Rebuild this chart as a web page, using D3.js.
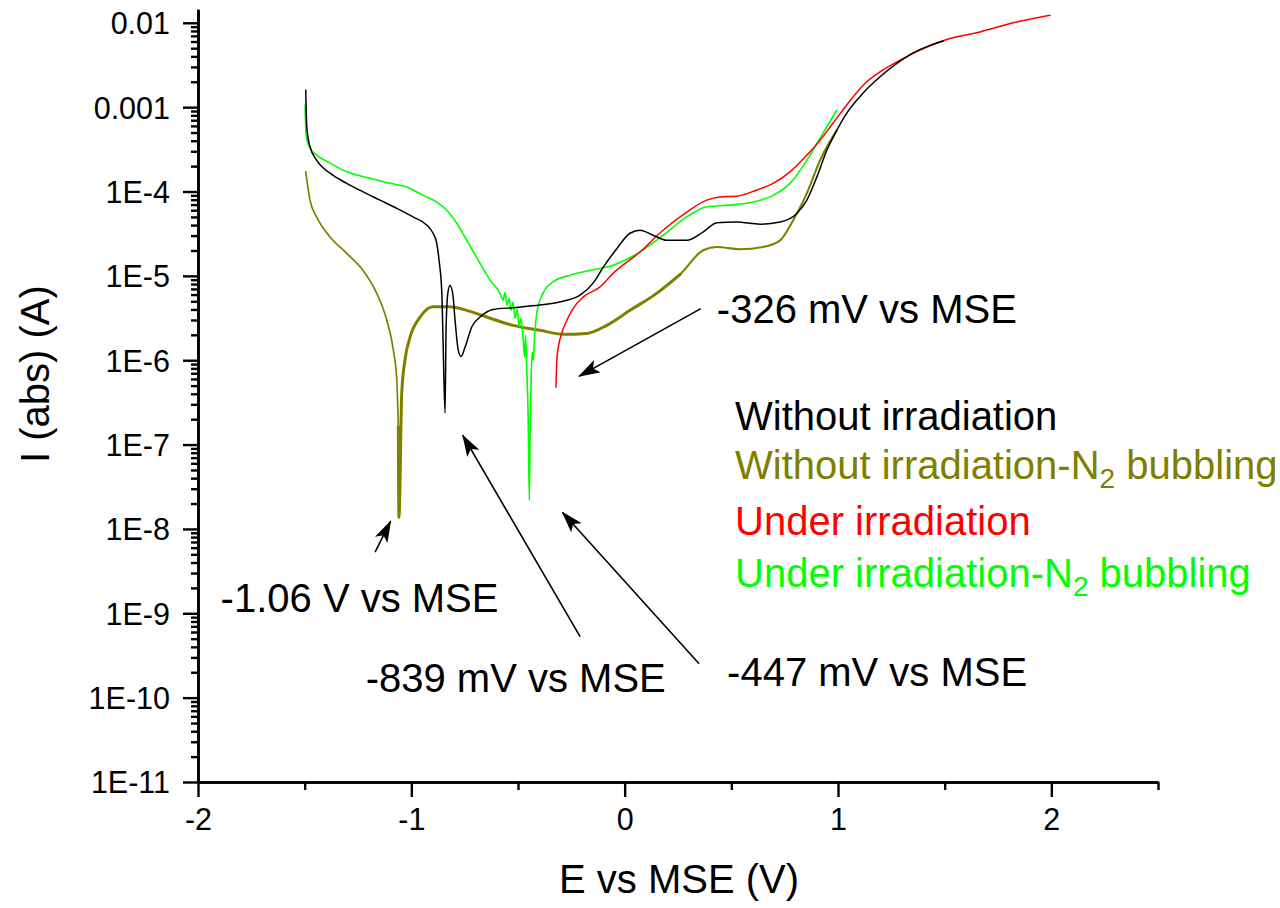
<!DOCTYPE html>
<html>
<head>
<meta charset="utf-8">
<script src="https://cdn.jsdelivr.net/npm/d3@7"></script>
<style>
  body { margin: 0; background: #fff; }
  svg  { display: block; font-family: "Liberation Sans", Arial, sans-serif; }
</style>
</head>
<body>
<svg id="chart" width="1280" height="908"></svg>
<script>
// ── Data (E vs MSE in V, |I| in A) ───────────────────────────────
const noIrr = [
  [-1.495,1.59e-3],[-1.490,5.8e-4],[-1.475,3.4e-4],[-1.444,2.35e-4],[-1.381,1.65e-4],
  [-1.303,1.25e-4],[-1.226,9.9e-5],[-1.147,7.9e-5],[-1.068,6.3e-5],[-0.992,5.0e-5],
  [-0.928,4.0e-5],[-0.898,3.2e-5],[-0.881,2.44e-5],[-0.870,1.53e-5],[-0.857,6.2e-6],
  [-0.851,1.6e-6],[-0.842,2.37e-7],[-0.837,2.45e-6],[-0.829,6.2e-6],[-0.819,7.7e-6],
  [-0.806,6.2e-6],[-0.795,2.97e-6],[-0.780,1.31e-6],[-0.767,1.11e-6],[-0.748,1.43e-6],
  [-0.717,2.48e-6],[-0.678,3.25e-6],[-0.617,4.0e-6],[-0.523,4.2e-6],[-0.397,4.5e-6],
  [-0.289,5.0e-6],[-0.209,5.9e-6],[-0.148,8.2e-6],[-0.101,1.26e-5],[-0.037,2.1e-5],
  [0.025,3.2e-5],[0.072,3.47e-5],[0.133,3.03e-5],[0.197,2.64e-5],[0.291,2.64e-5],
  [0.367,3.3e-5],[0.432,4.25e-5],[0.525,4.36e-5],[0.635,4.1e-5],[0.729,4.36e-5],
  [0.807,5.5e-5],[0.854,7.9e-5],[0.901,1.49e-4],[0.948,3.1e-4],[0.994,5.3e-4],
  [1.041,8.5e-4],[1.118,1.47e-3],[1.197,2.29e-3],[1.276,3.3e-3],[1.352,4.4e-3],
  [1.432,5.4e-3],[1.493,6.1e-3]
];
const noIrrN2 = [
  [-1.495,1.71e-4],[-1.475,7.9e-5],[-1.444,5.0e-5],[-1.381,2.89e-5],[-1.303,1.85e-5],
  [-1.226,1.16e-5],[-1.162,6.2e-6],[-1.115,2.97e-6],[-1.084,1.31e-6],[-1.068,5.8e-7],
  [-1.061,1.61e-7],[-1.058,1.37e-8],[-1.045,4.05e-7],[-1.030,1.0e-6],[-1.006,1.88e-6],
  [-0.959,3.25e-6],[-0.898,4.3e-6],[-0.819,4.3e-6],[-0.740,3.9e-6],[-0.647,3.25e-6],
  [-0.523,2.59e-6],[-0.397,2.26e-6],[-0.289,2.03e-6],[-0.178,2.08e-6],[-0.084,2.59e-6],
  [0.025,3.9e-6],[0.150,6.2e-6],[0.260,1.04e-5],[0.368,2.01e-5],[0.432,2.2e-5],
  [0.541,2.07e-5],[0.649,2.2e-5],[0.729,2.64e-5],[0.790,4.56e-5],[0.854,9.5e-5],
  [0.916,2.35e-4],[0.994,5.3e-4]
];
const irr = [
  [-0.322,4.8e-7],[-0.318,1.0e-6],[-0.311,1.43e-6],[-0.295,2.09e-6],[-0.271,2.97e-6],
  [-0.242,4.1e-6],[-0.195,5.6e-6],[-0.115,7.4e-6],[-0.054,1.07e-5],[0.072,1.92e-5],
  [0.180,3.47e-5],[0.291,5.7e-5],[0.385,7.9e-5],[0.447,8.6e-5],[0.526,8.8e-5],
  [0.619,1.04e-4],[0.696,1.25e-4],[0.775,1.71e-4],[0.854,2.7e-4],[0.916,4.06e-4],
  [0.977,6.5e-4],[1.041,1.06e-3],[1.118,1.82e-3],[1.197,2.62e-3],[1.291,3.6e-3],
  [1.385,4.75e-3],[1.510,6.35e-3],[1.666,7.8e-3],[1.821,1.0e-2],[1.994,1.23e-2]
];
const irrN2 = [
  [-1.498,1.06e-3],[-1.494,4.9e-4],[-1.475,3.27e-4],[-1.444,2.7e-4],[-1.381,2.17e-4],
  [-1.303,1.71e-4],[-1.194,1.44e-4],[-1.100,1.25e-4],[-1.022,1.13e-4],[-0.945,9.0e-5],
  [-0.881,7.5e-5],[-0.834,6.0e-5],[-0.787,4.2e-5],[-0.740,2.64e-5],[-0.678,1.41e-5],
  [-0.631,8.9e-6],[-0.584,6.2e-6],[-0.570,5.14e-6],[-0.561,6.38e-6],[-0.551,4.48e-6],
  [-0.542,5.42e-6],[-0.533,3.91e-6],[-0.523,4.86e-6],[-0.514,3.14e-6],[-0.504,4.02e-6],
  [-0.495,2.52e-6],[-0.486,3.14e-6],[-0.476,1.82e-6],[-0.469,1.08e-6],[-0.465,1.97e-6],
  [-0.458,6.6e-7],[-0.452,1.94e-7],[-0.447,2.18e-8],[-0.443,1.47e-7],[-0.438,6.6e-7],
  [-0.433,1.24e-6],[-0.428,1.0e-6],[-0.422,1.97e-6],[-0.412,3.6e-6],[-0.383,6.2e-6],
  [-0.336,8.5e-6],[-0.256,1.02e-5],[-0.162,1.16e-5],[-0.054,1.34e-5],[0.072,1.92e-5],
  [0.180,3.03e-5],[0.291,5.0e-5],[0.385,6.6e-5],[0.494,6.9e-5],[0.602,7.5e-5],
  [0.696,9.0e-5],[0.775,1.25e-4],[0.854,2.34e-4],[0.916,4.3e-4],[0.994,9.2e-4]
];

const xTicks      = [-2, -1, 0, 1, 2];
const xMinorTicks = [-1.5, -0.5, 0.5, 1.5, 2.5];
const yTicks      = [1e-11, 1e-10, 1e-9, 1e-8, 1e-7, 1e-6, 1e-5, 1e-4, 1e-3, 1e-2];
const yTickLabels = ['1E-11','1E-10','1E-9','1E-8','1E-7','1E-6','1E-5','1E-4','0.001','0.01'];

// annotation arrows: tail -> head, in data units
const arrows = [
  { from: [-1.170, 5.3e-9],  to: [-1.097, 1.24e-8] },
  { from: [-0.209, 5.3e-10], to: [-0.759, 1.29e-7] },
  { from: [0.349, 2.52e-10], to: [-0.292, 1.58e-8] },
  { from: [0.357, 4.09e-6],  to: [-0.214, 6.44e-7] }
];
const notes = [
  { text: '-1.06 V vs MSE', E: -1.894, I: 1.03e-9 },
  { text: '-839 mV vs MSE', E: -1.214, I: 1.16e-10 },
  { text: '-447 mV vs MSE', E: 0.480,  I: 1.36e-10 },
  { text: '-326 mV vs MSE', E: 0.432,  I: 2.76e-6 }
];

const seriesNames = ['Without irradiation', 'Without irradiation-N|2| bubbling',
                     'Under irradiation', 'Under irradiation-N|2| bubbling'];
const seriesColor = ['#000000', '#808000', '#ff0000', '#00ff00'];

// ── Scales ───────────────────────────────────────────────────────
const svg = d3.select('#chart');
const x = d3.scaleLinear().domain([-2, 2.5]).range([198, 1158]);
const y = d3.scaleLog().domain([1e-11, Math.pow(10, -1.84)]).range([782, 9.3]);

// ── Axes ─────────────────────────────────────────────────────────
const yMinor = [];
for (let d = -11; d <= -3; d++) for (let k = 2; k <= 9; k++) yMinor.push(k * Math.pow(10, d));

function styleAxis(g) {
  g.select('.domain').attr('stroke', '#000').attr('stroke-width', 2.6);
  g.selectAll('.tick line').attr('stroke', '#000').attr('stroke-width', 2.4);
}

svg.append('g').attr('transform', 'translate(198,0)')
  .call(d3.axisLeft(y).tickValues(yMinor).tickSize(7).tickSizeOuter(0).tickFormat(''))
  .call(styleAxis);
const yAx = svg.append('g').attr('transform', 'translate(198,0)')
  .call(d3.axisLeft(y).tickValues(yTicks).tickSize(15).tickSizeOuter(0)
        .tickFormat((d, i) => yTickLabels[i]))
  .call(styleAxis);
yAx.selectAll('text').attr('x', -28).attr('dy', '0.36em')
  .attr('font-size', 30.5).attr('font-family', null).attr('fill', '#000');

svg.append('g').attr('transform', 'translate(0,782)')
  .call(d3.axisBottom(x).tickValues(xMinorTicks).tickSize(8).tickSizeOuter(0).tickFormat(''))
  .call(styleAxis);
const xAx = svg.append('g').attr('transform', 'translate(0,782)')
  .call(d3.axisBottom(x).tickValues(xTicks).tickSize(15).tickSizeOuter(0).tickFormat(d => String(d)))
  .call(styleAxis);
xAx.selectAll('text').attr('y', 48).attr('dy', 0)
  .attr('font-size', 30.5).attr('font-family', null).attr('fill', '#000');

// axis titles
svg.append('text').attr('x', 679).attr('y', 893).attr('text-anchor', 'middle')
  .attr('font-size', 40).text('E vs MSE (V)');
svg.append('text').attr('transform', 'translate(49,463) rotate(-90)')
  .attr('font-size', 40).text('I (abs) (A)');

// ── Curves ───────────────────────────────────────────────────────
const line = d3.line().x(d => x(d[0])).y(d => y(d[1])).curve(d3.curveMonotoneX);
const plot = svg.append('g');

function drawSeries(data, color, width) {
  plot.append('path').datum(data).attr('d', line)
    .attr('fill', 'none').attr('stroke', color).attr('stroke-width', width)
    .attr('stroke-linejoin', 'round').attr('stroke-linecap', 'round');
}
drawSeries(noIrrN2.filter(d => d[0] <= -1.06), seriesColor[1], 1.7);
drawSeries(noIrrN2.filter(d => d[0] >= -1.061 && d[0] <= 0.26), seriesColor[1], 3.0);
drawSeries(noIrrN2.filter(d => d[0] >= 0.15), seriesColor[1], 2.1);
drawSeries(irrN2, seriesColor[3], 1.6);
drawSeries(irr, seriesColor[2], 1.5);
drawSeries(noIrr, seriesColor[0], 1.5);

// ── Annotations ──────────────────────────────────────────────────
svg.append('defs').append('marker')
  .attr('id', 'head').attr('markerUnits', 'userSpaceOnUse')
  .attr('viewBox', '0 0 22 14').attr('refX', 21).attr('refY', 7)
  .attr('markerWidth', 22).attr('markerHeight', 14).attr('orient', 'auto')
  .append('path').attr('d', 'M0,0L22,7L0,14L5,7Z').attr('fill', '#000');

svg.append('g').selectAll('line').data(arrows).join('line')
  .attr('x1', d => x(d.from[0])).attr('y1', d => y(d.from[1]))
  .attr('x2', d => x(d.to[0])).attr('y2', d => y(d.to[1]))
  .attr('stroke', '#000').attr('stroke-width', 1.6)
  .attr('marker-end', 'url(#head)');

svg.append('g').selectAll('text').data(notes).join('text')
  .attr('x', d => x(d.E)).attr('y', d => y(d.I))
  .attr('font-size', 40).attr('fill', '#000').text(d => d.text);

// ── Legend (text only, coloured) ─────────────────────────────────
const legendY = [430, 479, 535, 587];
seriesNames.forEach((name, i) => {
  const t = svg.append('text').attr('x', 735).attr('y', legendY[i])
    .attr('font-size', 40).attr('fill', seriesColor[i]);
  const parts = name.split('|');
  t.append('tspan').text(parts[0]);
  if (parts.length > 1) {
    t.append('tspan').attr('font-size', 28).attr('dy', 9).text(parts[1]);
    t.append('tspan').attr('dy', -9).text(parts[2]);
  }
});
</script>
</body>
</html>
